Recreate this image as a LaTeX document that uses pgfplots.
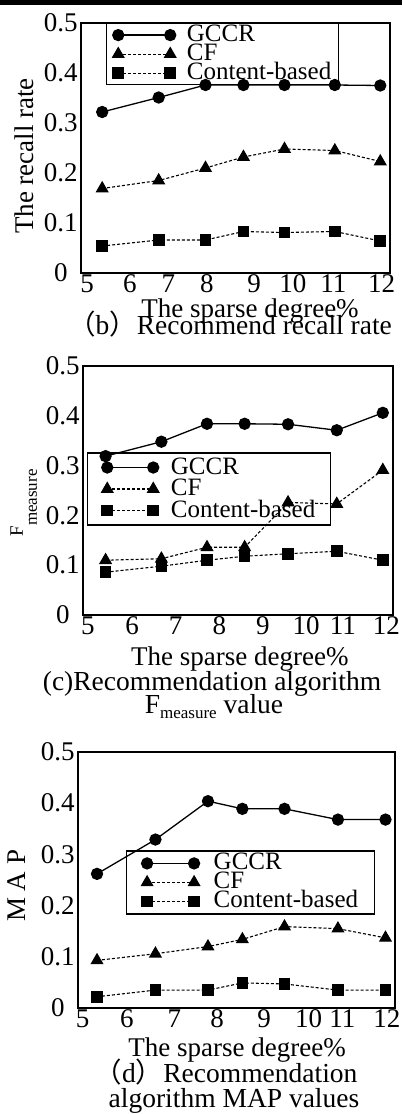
\documentclass[border=0pt]{standalone}
\usepackage{fontspec}
\setmainfont{Liberation Serif}
\newfontfamily\cjk{Noto Sans CJK SC}
\usepackage{pgfplots}
\pgfplotsset{compat=1.18}

\tikzset{titlefont/.style={font=\fontsize{27.5}{27.5}\selectfont}}

\pgfplotsset{
  panel/.style={
    scale only axis, anchor=north west, clip=false,
    xmin=5, xmax=12, ymin=0, ymax=0.5,
    ytick={0,0.1,0.2,0.3,0.4,0.5},
    yticklabels={0,0.1,0.2,0.3,0.4,0.5},
    xticklabels={5,6,7,8,9,10,11,12},
    major tick length=0pt,
    axis line style={line width=1.5pt},
    tick label style={font=\fontsize{27}{27}\selectfont},
    yticklabel style={text width=38pt, align=center, inner sep=1pt},
    xticklabel style={inner sep=1.5pt},
    label style={font=\fontsize{27}{27}\selectfont},
    legend cell align=left,
    legend style={line width=1.2pt, fill=none, font=\fontsize{25}{25}\selectfont,
      nodes={inner sep=1pt, text height=15pt, text depth=2pt}},
  },
  gccr/.style={black, solid, line width=1.3pt, mark=*, mark size=5.5pt, mark options={solid, fill=black}},
  cf/.style={black, line width=1.1pt, dash pattern=on 3pt off 2pt, mark=triangle*, mark size=6.5pt, mark options={solid, fill=black}},
  cb/.style={black, line width=1.1pt, dash pattern=on 3pt off 2pt, mark=square*, mark size=5.3pt, mark options={solid, fill=black}},
}

\begin{document}
\begin{tikzpicture}
\useasboundingbox (0pt,0pt) rectangle (402pt,-1114pt);
\fill[black] (0pt,0pt) rectangle (402pt,-5pt);

% (b) recall rate
\begin{axis}[panel, at={(81pt,-23pt)}, width=309pt, height=250pt,
    xtick={5.14,6.11,6.98,7.85,8.92,9.80,10.72,11.81},
    xlabel={The sparse degree\%},
    xlabel style={at={(axis description cs:0.547,-0.176)}, anchor=base},
    ylabel={The recall rate},
    ylabel style={at={(axis description cs:-0.155,0.468)}, anchor=base},
    legend image code/.code={\draw[#1] plot coordinates {(0pt,0pt) (52pt,0pt)};},
    legend style={at={(axis description cs:0.081,1)}, anchor=north west,
      inner xsep=6pt, inner ysep=2pt, column sep=10pt}]
\addplot[gccr] coordinates {(5.48,0.322) (6.76,0.351) (7.82,0.376) (8.68,0.376) (9.61,0.376) (10.75,0.376) (11.78,0.375)};
\addplot[cf] coordinates {(5.48,0.169) (6.76,0.185) (7.82,0.210) (8.68,0.232) (9.61,0.248) (10.75,0.245) (11.78,0.223)};
\addplot[cb] coordinates {(5.48,0.054) (6.76,0.066) (7.82,0.066) (8.68,0.083) (9.61,0.081) (10.75,0.083) (11.78,0.064)};
\legend{GCCR,CF,Content-based}
\end{axis}
\node[anchor=base, titlefont] at (230pt,-334pt) {{\cjk （}b{\cjk ）}Recommend recall rate};

% (c) F measure
\begin{axis}[panel, at={(83pt,-366pt)}, width=310pt, height=249pt,
    xtick={5.11,6.11,7.09,8.08,9.06,10.04,10.87,11.85},
    xlabel={The sparse degree\%},
    xlabel style={at={(axis description cs:0.506,-0.201)}, anchor=base},
    ylabel={{\fontsize{19}{19}\selectfont F}\raisebox{-14pt}{\fontsize{17}{17}\selectfont measure}},
    ylabel style={at={(axis description cs:-0.194,0.45)}, anchor=base},
    legend image code/.code={\draw[#1] plot coordinates {(0pt,0pt) (46pt,0pt)};},
    legend style={at={(axis description cs:0.013,0.653)}, anchor=north west,
      inner xsep=14pt, inner ysep=5pt, column sep=11pt, row sep=2.5pt}]
\addplot[gccr] coordinates {(5.51,0.319) (6.77,0.348) (7.80,0.384) (8.65,0.384) (9.63,0.383) (10.73,0.371) (11.77,0.406)};
\addplot[cf] coordinates {(5.51,0.110) (6.77,0.113) (7.80,0.136) (8.65,0.136) (9.63,0.226) (10.73,0.223) (11.77,0.291)};
\addplot[cb] coordinates {(5.51,0.086) (6.77,0.098) (7.80,0.110) (8.65,0.118) (9.63,0.123) (10.73,0.128) (11.77,0.110)};
\legend{GCCR,CF,Content-based}
\end{axis}
\node[anchor=base, titlefont] at (212pt,-690pt) {(c)Recommendation algorithm};
\node[anchor=base, titlefont] at (214pt,-713pt) {F\raisebox{-5pt}{\fontsize{17}{17}\selectfont measure} value};

% (d) MAP
\begin{axis}[panel, at={(78pt,-752pt)}, width=317pt, height=256pt,
    xtick={5.10,6.08,7.13,8.07,9.11,10.09,10.84,11.82},
    xlabel={The sparse degree\%},
    xlabel style={at={(axis description cs:0.502,-0.191)}, anchor=base},
    ylabel={M A P},
    ylabel style={at={(axis description cs:-0.167,0.477)}, anchor=base},
    legend image code/.code={\draw[#1] plot coordinates {(0pt,0pt) (47pt,0pt)};},
    legend style={at={(axis description cs:0.151,0.616)}, anchor=north west,
      inner xsep=15pt, inner ysep=3pt, column sep=13pt, row sep=0pt}]
\addplot[gccr] coordinates {(5.42,0.262) (6.71,0.329) (7.87,0.404) (8.63,0.389) (9.56,0.389) (10.74,0.368) (11.79,0.368)};
\addplot[cf] coordinates {(5.42,0.093) (6.71,0.106) (7.87,0.120) (8.63,0.134) (9.56,0.159) (10.74,0.155) (11.79,0.137)};
\addplot[cb] coordinates {(5.42,0.022) (6.71,0.035) (7.87,0.035) (8.63,0.049) (9.56,0.047) (10.74,0.035) (11.79,0.035)};
\legend{GCCR,CF,Content-based}
\end{axis}
\node[anchor=base, titlefont] at (226pt,-1082pt) {{\cjk （}d{\cjk ）}Recommendation};
\node[anchor=base, titlefont] at (234pt,-1107pt) {algorithm MAP values};
\end{tikzpicture}
\end{document}
